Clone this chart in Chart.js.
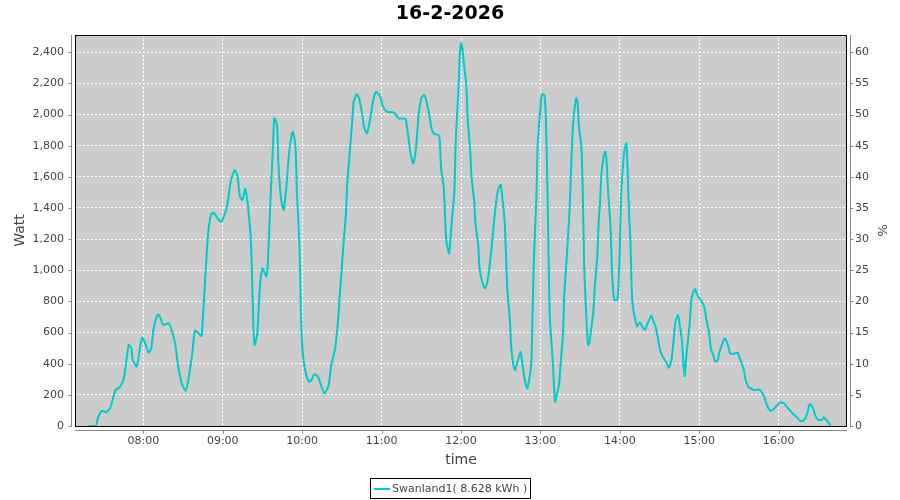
<!DOCTYPE html>
<html>
<head>
<meta charset="utf-8">
<script src="https://cdn.jsdelivr.net/npm/chart.js@4.4.1/dist/chart.umd.min.js"></script>
<style>
  html, body { margin: 0; padding: 0; background: #fff; }
</style>
</head>
<body>
<canvas id="chart" width="900" height="500"></canvas>
<script>
// chart texts
const chartTitle = '16-2-2026';
const seriesLabel = 'Swanland1( 8.628 kWh )';

// axis ticks
const timeTicks = ['08:00', '09:00', '10:00', '11:00', '12:00', '13:00', '14:00', '15:00', '16:00'];
const wattTicks = [0, 200, 400, 600, 800, 1000, 1200, 1400, 1600, 1800, 2000, 2200, 2400];
const percentTicks = [0, 5, 10, 15, 20, 25, 30, 35, 40, 45, 50, 55, 60];

const times = [
  '7:18', '7:24', '7:26', '7:29', '7:32', '7:35', '7:39', '7:42', '7:45', '7:47', '7:49', '7:51', '7:52', '7:55', '7:57', '7:59',
  '8:01', '8:04', '8:06', '8:08', '8:11', '8:13', '8:15', '8:19', '8:21', '8:24', '8:26', '8:29', '8:32', '8:34', '8:37', '8:39',
  '8:42', '8:44', '8:45', '8:47', '8:49', '8:51', '8:53', '8:57', '8:59',
  '9:03', '9:06', '9:09', '9:11', '9:13', '9:15', '9:17', '9:19', '9:21', '9:22', '9:23', '9:24', '9:26', '9:28', '9:30', '9:33',
  '9:34', '9:36', '9:38', '9:39', '9:41', '9:42', '9:44', '9:46', '9:48', '9:50', '9:52', '9:53', '9:55', '9:56', '9:58', '9:59',
  '10:00', '10:02', '10:05', '10:07', '10:09', '10:12', '10:15', '10:17', '10:20', '10:22', '10:25', '10:27', '10:29', '10:31',
  '10:33', '10:34', '10:36', '10:38', '10:39', '10:41', '10:43', '10:45', '10:47', '10:49', '10:51', '10:54', '10:56', '10:59',
  '11:01', '11:04', '11:08', '11:10', '11:13', '11:18', '11:20', '11:22', '11:24', '11:26', '11:28', '11:30', '11:32', '11:34',
  '11:36', '11:38', '11:40', '11:43', '11:44', '11:45', '11:47', '11:48', '11:49', '11:51', '11:53', '11:55', '11:56', '11:58', '11:59',
  '12:00', '12:01', '12:02', '12:04', '12:05', '12:07', '12:08', '12:10', '12:11', '12:13', '12:14', '12:16', '12:18', '12:20',
  '12:22', '12:24', '12:26', '12:28', '12:30', '12:31', '12:33', '12:34', '12:35', '12:37', '12:38', '12:40', '12:41', '12:43',
  '12:45', '12:46', '12:48', '12:50', '12:51', '12:53', '12:54', '12:55', '12:57', '12:58',
  '13:00', '13:01', '13:03', '13:04', '13:05', '13:06', '13:07', '13:09', '13:10', '13:11', '13:12', '13:14', '13:15', '13:17',
  '13:18', '13:20', '13:22', '13:23', '13:24', '13:25', '13:26', '13:27', '13:28', '13:29', '13:31', '13:32', '13:33', '13:34',
  '13:35', '13:36', '13:37', '13:39', '13:40', '13:41', '13:43', '13:44', '13:45', '13:46', '13:48', '13:49', '13:50', '13:51',
  '13:53', '13:54', '13:55', '13:56', '13:58', '13:59',
  '14:00', '14:01', '14:03', '14:04', '14:05', '14:06', '14:07', '14:08', '14:09', '14:10', '14:12', '14:13', '14:15', '14:17',
  '14:19', '14:21', '14:23', '14:24', '14:25', '14:27', '14:29', '14:30', '14:32', '14:34', '14:36', '14:37', '14:39', '14:41',
  '14:42', '14:44', '14:45', '14:47', '14:48', '14:49', '14:50', '14:52', '14:53', '14:54', '14:56', '14:57', '14:58',
  '15:00', '15:02', '15:04', '15:05', '15:07', '15:08', '15:09', '15:11', '15:12', '15:14', '15:15', '15:17', '15:19', '15:20',
  '15:22', '15:23', '15:25', '15:27', '15:29', '15:30', '15:32', '15:34', '15:35', '15:37', '15:40', '15:42', '15:45', '15:47',
  '15:49', '15:51', '15:54', '15:56', '15:59',
  '16:01', '16:04', '16:06', '16:09', '16:11', '16:14', '16:16', '16:18', '16:20', '16:22', '16:23', '16:24', '16:26', '16:28',
  '16:30', '16:33', '16:34', '16:36', '16:38', '16:39'
];
const watts = [
  0, 0, 60, 98, 88, 116, 231, 248, 295, 403, 520, 499, 424, 381, 477, 567,
  541, 471, 499, 638, 717, 692, 649, 660, 628, 531, 403, 274, 227, 295, 467, 612,
  595, 578, 692, 981, 1238, 1355, 1370, 1323, 1312,
  1398, 1569, 1644, 1612, 1473, 1452, 1522, 1419, 1227, 1013, 692, 520, 585, 884, 1013, 959,
  1034, 1441, 1805, 1976, 1933, 1698, 1463, 1387, 1527, 1741, 1869, 1890, 1784, 1506, 1141, 756,
  520, 371, 285, 295, 332, 317, 242, 210, 263, 392, 499, 670, 906, 1141,
  1355, 1548, 1762, 1976, 2083, 2130, 2105, 2019, 1912, 1880, 1955, 2105, 2147, 2115,
  2051, 2019, 2015, 2009, 1976, 1972, 1869, 1741, 1687, 1784, 1998, 2105, 2126, 2083,
  1998, 1901, 1875, 1869, 1826, 1655, 1527, 1334, 1184, 1109, 1312, 1505, 1826, 2158, 2362,
  2458, 2426, 2340, 2190, 1976, 1762, 1591, 1441, 1291, 1163, 1013, 927, 884, 927,
  1055, 1227, 1398, 1516, 1548, 1484, 1312, 1098, 884, 670, 499, 371, 360, 424,
  477, 424, 306, 242, 274, 392, 692, 1055, 1484, 1826,
  2041, 2126, 2126, 1998, 1655, 1184, 713, 456, 306, 156, 188, 263, 371, 585,
  841, 1100, 1387, 1612, 1826, 1976, 2051, 2105, 2083, 1933, 1784, 1500, 1050, 820,
  649, 520, 531, 670, 734, 884, 1098, 1312, 1430, 1612, 1741, 1762, 1698, 1527,
  1270, 1013, 863, 809, 809, 906,
  1163, 1484, 1741, 1794, 1816, 1612, 1355, 1184, 863, 756, 670, 638, 666, 638,
  617, 660, 696, 708, 681, 638, 552, 499, 452, 424, 392, 375, 424, 585,
  670, 713, 660, 541, 403, 320, 430, 595, 681, 809, 874, 878, 852,
  820, 799, 756, 702, 617, 552, 488, 445, 413, 424, 467, 520, 563, 557,
  510, 471, 462, 467, 471, 450, 403, 349, 295, 252, 236, 231, 236, 220,
  188, 135, 96, 107, 135,
  150, 146, 124, 96, 77, 54, 34, 32, 49, 92, 135, 141, 113, 60,
  39, 43, 54, 39, 17, 0
];

const lineColor = 'rgb(0, 204, 204)';
const textColor = '#444444';
const wattMax = 2511;

function toMin(s) {
  const p = s.split(':').map(Number);
  return p[0] * 60 + p[1];
}

Chart.defaults.font.family = '"DejaVu Sans", sans-serif';
Chart.defaults.font.size = 11;

// plot background, outline, offset axis lines and legend box
const framePlugin = {
  id: 'frame',
  beforeDraw(chart) {
    const { ctx, chartArea: a } = chart;
    ctx.save();
    ctx.fillStyle = '#cccccc';
    ctx.fillRect(a.left, a.top, a.right - a.left, a.bottom - a.top);
    ctx.restore();
  },
  beforeDatasetsDraw(chart) {
    const { ctx, chartArea: a, scales } = chart;
    ctx.save();
    ctx.lineWidth = 1;
    ctx.strokeStyle = '#000';
    ctx.strokeRect(a.left + 0.5, a.top + 0.5, a.right - a.left - 1, a.bottom - a.top);

    ctx.strokeStyle = '#888888';
    ctx.beginPath();
    // left axis
    ctx.moveTo(a.left - 3.5, a.top);
    ctx.lineTo(a.left - 3.5, a.bottom + 1);
    scales.y.ticks.forEach(t => {
      const y = Math.round(scales.y.getPixelForValue(t.value)) + 0.5;
      ctx.moveTo(a.left - 3.5, y);
      ctx.lineTo(a.left - 6.5, y);
    });
    // right axis
    ctx.moveTo(a.right + 3.5, a.top);
    ctx.lineTo(a.right + 3.5, a.bottom + 1);
    scales.y2.ticks.forEach(t => {
      const y = Math.round(scales.y2.getPixelForValue(t.value)) + 0.5;
      ctx.moveTo(a.right + 3.5, y);
      ctx.lineTo(a.right + 6.5, y);
    });
    // bottom axis
    ctx.moveTo(a.left, a.bottom + 4.5);
    ctx.lineTo(a.right, a.bottom + 4.5);
    scales.x.ticks.forEach(t => {
      const x = Math.round(scales.x.getPixelForValue(t.value)) + 0.5;
      ctx.moveTo(x, a.bottom + 4.5);
      ctx.lineTo(x, a.bottom + 7.5);
    });
    ctx.stroke();
    ctx.restore();
  },
  afterDraw(chart) {
    const { ctx } = chart;
    ctx.save();
    ctx.font = '11px "DejaVu Sans", sans-serif';
    const tw = ctx.measureText(seriesLabel).width;
    const w = Math.round(tw + 25);
    const x0 = Math.round(450 - w / 2);
    const y0 = 478;
    ctx.strokeStyle = '#000';
    ctx.lineWidth = 1;
    ctx.strokeRect(x0 + 0.5, y0 + 0.5, w, 20);
    ctx.strokeStyle = lineColor;
    ctx.lineWidth = 2;
    ctx.beginPath();
    ctx.moveTo(x0 + 4, y0 + 11);
    ctx.lineTo(x0 + 20, y0 + 11);
    ctx.stroke();
    ctx.fillStyle = textColor;
    ctx.textBaseline = 'middle';
    ctx.fillText(seriesLabel, x0 + 22, y0 + 11);
    ctx.restore();
  }
};

const ctx = document.getElementById('chart').getContext('2d');
new Chart(ctx, {
  type: 'line',
  data: {
    datasets: [{
      label: seriesLabel,
      data: times.map((t, i) => ({ x: toMin(t), y: watts[i] })),
      borderColor: lineColor,
      borderWidth: 2,
      pointRadius: 0,
      tension: 0.2,
      fill: false,
      yAxisID: 'y'
    }]
  },
  options: {
    responsive: false,
    animation: false,
    events: [],
    layout: { padding: 0 },
    plugins: {
      legend: { display: false },
      tooltip: { enabled: false },
      title: {
        display: true,
        text: chartTitle,
        color: '#000',
        font: { size: 19, weight: 'bold' },
        padding: { top: 3, bottom: 9.2 }
      }
    },
    scales: {
      x: {
        type: 'linear',
        min: 428.4,
        max: 1011.6,
        afterBuildTicks: s => { s.ticks = timeTicks.map(t => ({ value: toMin(t) })); },
        afterFit: s => { s.height = 74; },
        ticks: {
          callback: (v, i) => timeTicks[i],
          color: textColor,
          padding: 9,
          maxRotation: 0,
          autoSkip: false
        },
        grid: { color: '#ffffff', lineWidth: 1, drawTicks: false },
        border: { display: false, dash: [2, 2] },
        title: {
          display: true,
          text: 'time',
          color: textColor,
          font: { size: 14 },
          padding: { top: 0, bottom: 31.6 }
        }
      },
      y: {
        position: 'left',
        min: 0,
        max: wattMax,
        afterBuildTicks: s => { s.ticks = wattTicks.map(v => ({ value: v })); },
        afterFit: s => { s.width = 75; },
        ticks: {
          callback: v => v.toLocaleString('en-US'),
          color: textColor,
          padding: 11
        },
        grid: { color: '#ffffff', lineWidth: 1, drawTicks: false },
        border: { display: false, dash: [2, 2] },
        title: {
          display: true,
          text: 'Watt',
          color: textColor,
          font: { size: 14 },
          padding: { top: 12, bottom: 0 }
        }
      },
      y2: {
        position: 'right',
        min: 0,
        max: wattMax / 40,
        afterBuildTicks: s => { s.ticks = percentTicks.map(v => ({ value: v })); },
        afterFit: s => { s.width = 53; },
        ticks: {
          callback: v => String(v),
          color: textColor,
          padding: 8
        },
        grid: { display: false, drawTicks: false },
        border: { display: false },
        title: {
          display: true,
          text: '%',
          color: textColor,
          font: { size: 13 },
          padding: { top: 11, bottom: 0 }
        }
      }
    }
  },
  plugins: [framePlugin]
});
</script>
</body>
</html>
